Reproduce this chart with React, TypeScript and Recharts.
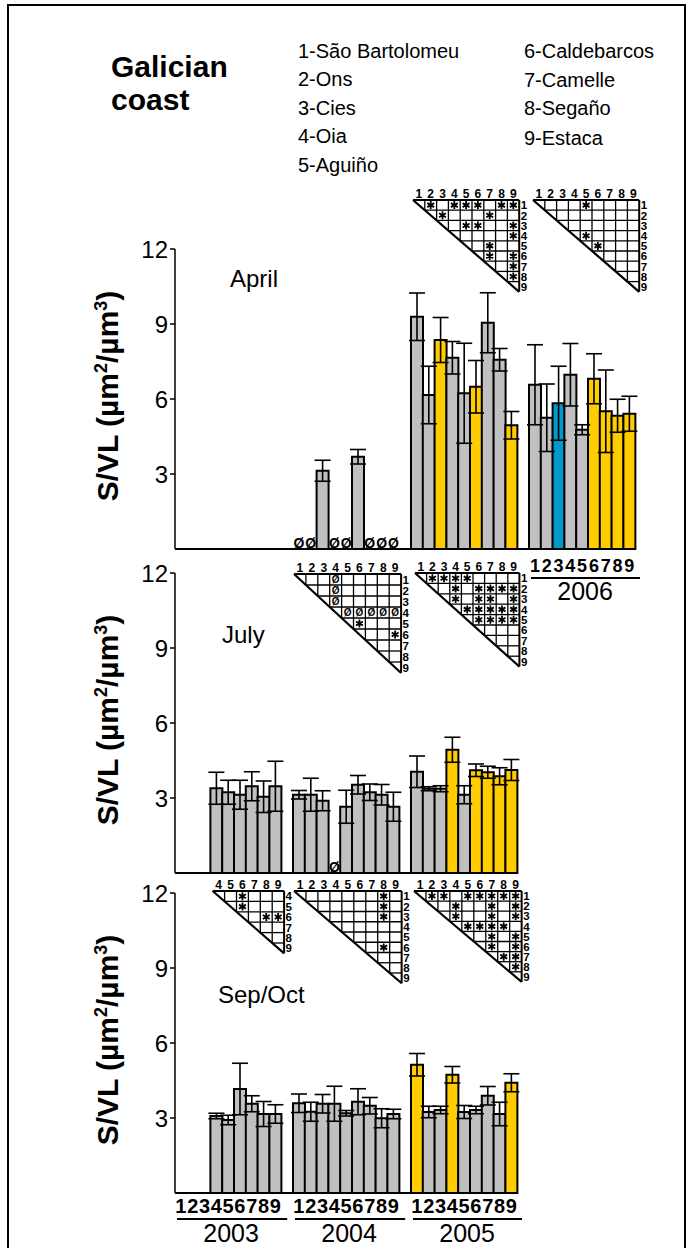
import React from 'react';
import { BarChart, Bar, XAxis, YAxis, ErrorBar, Cell } from 'recharts';

const FONT = 'Arial, "Liberation Sans", Helvetica, sans-serif';
const SLOT = 11.8;
const PLOT_LEFT = 175;

const SITES = [1, 2, 3, 4, 5, 6, 7, 8, 9];
const SITE_NAMES = ['São Bartolomeu', 'Ons', 'Cies', 'Oia', 'Aguiño', 'Caldebarcos', 'Camelle', 'Segaño', 'Estaca'];
const Y_TICKS = [3, 6, 9, 12];

const COLORS: Record<string, string> = { g: '#C0C0C0', y: '#FFCC00', b: '#0099CC' };

// April
const aprMean2003 = [null, null, null, null, null, null, null, null, null];
const aprErr2003 = [null, null, null, null, null, null, null, null, null];
const aprMean2004 = [null, null, 3.13, null, null, 3.69, null, null, null];
const aprErr2004 = [null, null, 0.42, null, null, 0.29, null, null, null];
const aprNd2004 = [1, 1, 0, 1, 1, 0, 1, 1, 1];
const aprMean2005 = [9.29, 6.16, 8.36, 7.65, 6.23, 6.49, 9.05, 7.57, 4.95];
const aprErr2005 = [0.95, 1.15, 0.9, 0.65, 2.0, 1.05, 1.2, 0.45, 0.55];
const aprFill2005 = 'ggyggyggy';
const aprMean2006 = [6.57, 5.25, 5.83, 6.97, 4.77, 6.81, 5.51, 5.33, 5.41];
const aprErr2006 = [1.6, 1.35, 1.48, 1.25, 0.2, 1.0, 1.65, 0.66, 0.7];
const aprFill2006 = 'ggbggyyyy';

// July
const julMean2003 = [null, null, null, 3.39, 3.23, 3.13, 3.47, 3.05, 3.47];
const julErr2003 = [null, null, null, 0.64, 0.48, 0.58, 0.58, 0.63, 1.0];
const julMean2004 = [3.13, 3.13, 2.89, null, 2.65, 3.53, 3.23, 3.13, 2.65];
const julErr2004 = [0.17, 0.66, 0.4, null, 0.66, 0.37, 0.33, 0.41, 0.58];
const julNd2004 = [0, 0, 0, 1, 0, 0, 0, 0, 0];
const julMean2005 = [4.05, 3.37, 3.37, 4.93, 3.13, 4.11, 4.03, 3.87, 4.12];
const julErr2005 = [0.63, 0.08, 0.12, 0.5, 0.36, 0.25, 0.24, 0.34, 0.42];
const julFill2005 = 'gggygyyyy';

// Sep/Oct
const sepMean2003 = [null, null, null, 3.08, 2.92, 4.16, 3.57, 3.16, 3.16];
const sepErr2003 = [null, null, null, 0.11, 0.19, 1.03, 0.32, 0.5, 0.37];
const sepMean2004 = [3.59, 3.25, 3.57, 3.57, 3.19, 3.65, 3.49, 2.99, 3.16];
const sepErr2004 = [0.37, 0.38, 0.37, 0.7, 0.11, 0.52, 0.33, 0.38, 0.19];
const sepMean2005 = [5.13, 3.24, 3.32, 4.73, 3.24, 3.32, 3.89, 3.16, 4.41];
const sepErr2005 = [0.45, 0.23, 0.15, 0.33, 0.26, 0.15, 0.37, 0.47, 0.36];
const sepFill2005 = 'yggyggggy';

// significance matrices: for each row, the columns marked
const aprStars2005 = [[2, 4, 5, 6, 8, 9], [3, 7], [5, 6, 9], [9], [7], [7, 9], [9], [9], []];
const aprStars2006 = [[5], [], [], [5], [6], [], [], [], []];
const julStars2004 = [[], [], [], [], [6], [9], [], [], []];
const julNdCells2004 = [[4], [4], [4], [5, 6, 7, 8, 9], [], [], [], [], []];
const julStars2005 = [[2, 3, 4, 5], [4, 6, 7, 8, 9], [4, 6, 7, 9], [5, 6, 7, 8, 9], [6, 7, 8, 9], [], [], [], []];
const sepSites2003 = [4, 5, 6, 7, 8, 9];
const sepStars2003 = [[6], [6], [8, 9], [], [], []];
const sepStars2004 = [[8], [8], [8], [], [], [8], [], [], []];
const sepStars2005 = [[2, 3, 5, 6, 7, 8, 9], [4, 7, 9], [4, 7, 9], [5, 6, 7, 8], [7, 9], [7, 9], [8, 9], [9], []];

type Group = { year: string; mean: (number | null)[]; err: (number | null)[]; nd?: number[]; fill?: string };

function buildRows(groups: Group[]) {
  const rows: any[] = [];
  groups.forEach((g, gi) => {
    if (gi > 0) rows.push({ slot: `gap-${gi}`, mean: null, err: null, nd: null, fill: 'g' });
    SITES.forEach((s, i) => {
      rows.push({
        slot: `${g.year}-${s}`,
        mean: g.mean[i],
        err: g.err[i],
        nd: g.nd && g.nd[i] ? 0.01 : null,
        fill: g.fill ? g.fill[i] : 'g',
      });
    });
  });
  return rows;
}

const aprilRows = buildRows([
  { year: '2003', mean: aprMean2003, err: aprErr2003 },
  { year: '2004', mean: aprMean2004, err: aprErr2004, nd: aprNd2004 },
  { year: '2005', mean: aprMean2005, err: aprErr2005, fill: aprFill2005 },
  { year: '2006', mean: aprMean2006, err: aprErr2006, fill: aprFill2006 },
]);
const julyRows = buildRows([
  { year: '2003', mean: julMean2003, err: julErr2003 },
  { year: '2004', mean: julMean2004, err: julErr2004, nd: julNd2004 },
  { year: '2005', mean: julMean2005, err: julErr2005, fill: julFill2005 },
]);
const sepRows = buildRows([
  { year: '2003', mean: sepMean2003, err: sepErr2003 },
  { year: '2004', mean: sepMean2004, err: sepErr2004 },
  { year: '2005', mean: sepMean2005, err: sepErr2005, fill: sepFill2005 },
]);

// "not determined" mark drawn at the foot of empty slots
const NdMark = (props: any) => {
  const { x, y, width, height, payload } = props;
  if (x == null || !payload || payload.nd == null) return <g />;
  return (
    <text x={x + width / 2} y={y + height - 1} textAnchor="middle" fontFamily={FONT} fontWeight="bold" fontSize={14}>
      Ø
    </text>
  );
};

const makeTick = (years: string[], o: { digit: number; line: number; year: number; size: number }) => (props: any) => {
  const { x, y, payload } = props;
  const [year, site] = String(payload.value).split('-');
  if (!years.includes(year)) return <g />;
  return (
    <g fontFamily={FONT} fill="#000">
      <text x={x} y={y + o.digit} textAnchor="middle" fontWeight="bold" fontSize={o.size}>
        {site}
      </text>
      {site === '5' && (
        <>
          <line x1={x - 4.5 * SLOT + 2} x2={x + 4.5 * SLOT + 6} y1={y + o.line} y2={y + o.line} stroke="#000" strokeWidth={2} />
          <text x={x + 3} y={y + o.year} textAnchor="middle" fontSize={25}>
            {year}
          </text>
        </>
      )}
    </g>
  );
};

const YTitle = (props: any) => {
  const vb = props.viewBox || {};
  const cx = 107;
  const cy = vb.y + vb.height / 2 - 3;
  return (
    <text
      x={cx}
      y={cy + 10.7}
      transform={`rotate(-90 ${cx} ${cy})`}
      textAnchor="middle"
      fontFamily={FONT}
      fontWeight="bold"
      fontSize={30}
      fill="#000"
    >
      S/VL (µm
      <tspan fontSize={18} dy={-11}>2</tspan>
      <tspan dy={11}>/µm</tspan>
      <tspan fontSize={18} dy={-11}>3</tspan>
      <tspan dy={11}>)</tspan>
    </text>
  );
};

function Panel({ rows, top, xHeight, tick }: { rows: any[]; top: number; xHeight: number; tick: any }) {
  const width = PLOT_LEFT + rows.length * SLOT + 5;
  return (
    <div style={{ position: 'absolute', left: 0, top: top - 20 }}>
      <BarChart
        width={width}
        height={20 + 300 + xHeight}
        data={rows}
        margin={{ top: 20, right: 5, left: 0, bottom: 0 }}
        barCategoryGap={0}
        barGap={0}
      >
        <XAxis
          dataKey="slot"
          type="category"
          interval={0}
          height={xHeight}
          tickLine={false}
          tickSize={0}
          tickMargin={0}
          axisLine={{ stroke: '#000', strokeWidth: 1.8 }}
          tick={tick}
        />
        <YAxis
          type="number"
          domain={[0, 12]}
          ticks={Y_TICKS}
          interval={0}
          width={PLOT_LEFT}
          tickSize={5}
          tickMargin={2}
          axisLine={{ stroke: '#000', strokeWidth: 1.5 }}
          tickLine={{ stroke: '#000', strokeWidth: 1.5 }}
          tick={{ fill: '#000', fontSize: 24, fontFamily: FONT }}
          label={{ content: (p: any) => <YTitle {...p} /> }}
        />
        <Bar dataKey="mean" stackId="s" stroke="#000" strokeWidth={2} isAnimationActive={false}>
          {rows.map((r, i) => (
            <Cell key={i} fill={COLORS[r.fill]} />
          ))}
          <ErrorBar dataKey="err" width={8} stroke="#000" strokeWidth={1.6} />
        </Bar>
        <Bar dataKey="nd" stackId="s" isAnimationActive={false} shape={NdMark} />
      </BarChart>
    </div>
  );
}

// asterisk symbol for a significant pair
function Star({ cx, cy }: { cx: number; cy: number }) {
  const r = 4;
  const a = r * Math.cos(Math.PI / 6);
  const b = r * Math.sin(Math.PI / 6);
  return (
    <path
      d={`M${cx} ${cy - r}L${cx} ${cy + r}M${cx - a} ${cy - b}L${cx + a} ${cy + b}M${cx - a} ${cy + b}L${cx + a} ${cy - b}`}
      stroke="#000"
      strokeWidth={1.8}
    />
  );
}

function Matrix({ x, y, cw, ch, sites, stars, nds }: { x: number; y: number; cw: number; ch: number; sites: number[]; stars: number[][]; nds?: number[][] }) {
  const n = sites.length;
  const col = (s: number) => sites.indexOf(s);
  const els: React.ReactNode[] = [];
  for (let i = 1; i < n; i++) {
    els.push(<line key={`v${i}`} x1={x + i * cw} x2={x + i * cw} y1={y} y2={y + i * ch} stroke="#000" strokeWidth={1.3} />);
    els.push(<line key={`h${i}`} x1={x + i * cw} x2={x + n * cw} y1={y + i * ch} y2={y + i * ch} stroke="#000" strokeWidth={1.3} />);
  }
  return (
    <g fontFamily={FONT} fontWeight="bold" fill="#000">
      {els}
      <line x1={x} x2={x + n * cw} y1={y} y2={y} stroke="#000" strokeWidth={2} />
      <line x1={x + n * cw} x2={x + n * cw} y1={y} y2={y + n * ch} stroke="#000" strokeWidth={2} />
      <line x1={x} x2={x + n * cw} y1={y} y2={y + n * ch} stroke="#000" strokeWidth={2.2} />
      {sites.map((s, i) => (
        <text key={`c${s}`} x={x + (i + 0.5) * cw} y={y - 2} textAnchor="middle" fontSize={12}>
          {s}
        </text>
      ))}
      {sites.map((s, i) => (
        <text key={`r${s}`} x={x + n * cw + 1.5} y={y + (i + 0.5) * ch + 4.2} fontSize={11.5}>
          {s}
        </text>
      ))}
      {stars.map((cols, r) => cols.map((c) => <Star key={`s${r}-${c}`} cx={x + (col(c) + 0.5) * cw} cy={y + (r + 0.5) * ch} />))}
      {(nds || []).map((cols, r) =>
        cols.map((c) => (
          <text key={`n${r}-${c}`} x={x + (col(c) + 0.5) * cw} y={y + (r + 0.5) * ch + 3.6} textAnchor="middle" fontSize={10} fill="#000">
            Ø
          </text>
        ))
      )}
    </g>
  );
}

export default function App() {
  return (
    <div style={{ position: 'fixed', left: 0, top: 0, width: 692, height: 1248, overflow: 'hidden', background: '#fff' }}>
      <div style={{ position: 'absolute', left: 7, top: 4, width: 679, height: 1300, border: '2px solid #000', boxSizing: 'border-box' }} />
      <Panel rows={aprilRows} top={249} xHeight={60} tick={makeTick(['2006'], { digit: 23, line: 29, year: 51, size: 18 })} />
      <Panel rows={julyRows} top={573} xHeight={10} tick={false} />
      <Panel rows={sepRows} top={893} xHeight={55} tick={makeTick(['2003', '2004', '2005'], { digit: 20, line: 26, year: 49, size: 20 })} />
      <svg width={692} height={1248} style={{ position: 'absolute', left: 0, top: 0, pointerEvents: 'none' }} fontFamily={FONT}>
        <text x={111} y={77} fontSize={30} fontWeight="bold">Galician</text>
        <text x={111} y={110} fontSize={30} fontWeight="bold">coast</text>
        {SITE_NAMES.slice(0, 5).map((nm, i) => (
          <text key={nm} x={298} y={58 + i * 28.4} fontSize={20}>{`${i + 1}-${nm}`}</text>
        ))}
        {SITE_NAMES.slice(5).map((nm, i) => (
          <text key={nm} x={524} y={58 + i * 28.6 + (i === 3 ? 1.5 : 0)} fontSize={20}>{`${i + 6}-${nm}`}</text>
        ))}
        <text x={230} y={287} fontSize={24}>April</text>
        <text x={222} y={643} fontSize={24}>July</text>
        <text x={218} y={1003} fontSize={24}>Sep/Oct</text>
        <Matrix x={413} y={200} cw={11.8} ch={10.2} sites={SITES} stars={aprStars2005} />
        <Matrix x={533} y={200} cw={11.8} ch={10.2} sites={SITES} stars={aprStars2006} />
        <Matrix x={294} y={574} cw={11.9} ch={11} sites={SITES} stars={julStars2004} nds={julNdCells2004} />
        <Matrix x={415} y={573} cw={11.6} ch={10.4} sites={SITES} stars={julStars2005} />
        <Matrix x={212.7} y={891} cw={11.9} ch={10.4} sites={sepSites2003} stars={sepStars2003} />
        <Matrix x={294} y={891} cw={11.96} ch={10.25} sites={SITES} stars={sepStars2004} />
        <Matrix x={414} y={891} cw={11.96} ch={10.1} sites={SITES} stars={sepStars2005} />
      </svg>
    </div>
  );
}
